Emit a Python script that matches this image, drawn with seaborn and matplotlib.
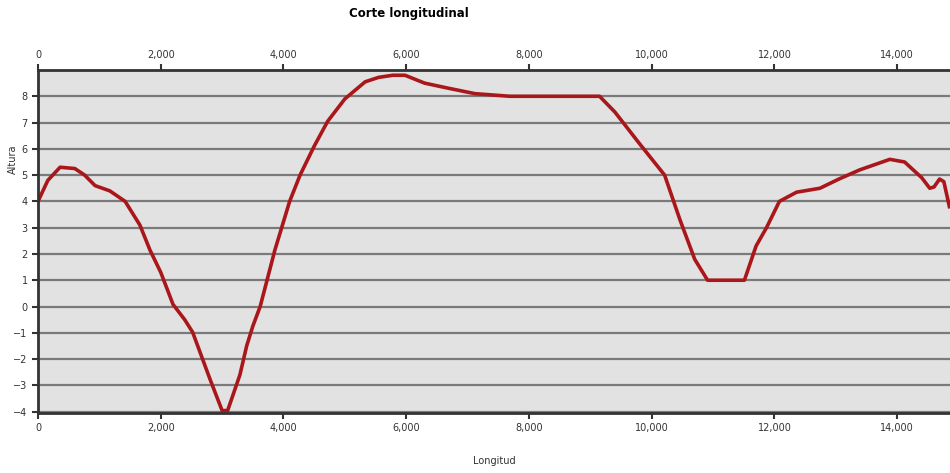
import numpy as np
import pandas as pd
import seaborn as sns
import matplotlib.pyplot as plt
from matplotlib.ticker import FuncFormatter, MultipleLocator

# profile (distance, height)
longitud = [0, 160, 360, 600, 760, 930, 1170, 1420, 1660, 1824, 2000, 2200, 2390,
            2520, 2800, 3000, 3090, 3290, 3400, 3500, 3620, 3860, 4100, 4270, 4500, 4720,
            5000, 5330, 5550, 5780, 5980, 6140, 6300, 6700, 7120, 7690, 9150, 9400,
            9800, 10210, 10460, 10700, 10910, 11510, 11700, 11870, 12080, 12360,
            12740, 13050, 13390, 13880, 14120, 14400, 14530, 14600, 14690, 14760, 14850]
altura = [4.0, 4.8, 5.3, 5.25, 5.0, 4.6, 4.4, 4.0, 3.1, 2.15, 1.3, 0.08, -0.5,
          -0.98, -2.75, -3.96, -3.96, -2.6, -1.5, -0.75, 0.0, 2.15, 4.0, 5.0, 6.1, 7.05,
          7.9, 8.55, 8.72, 8.8, 8.8, 8.65, 8.5, 8.3, 8.1, 8.0, 8.0, 7.4,
          6.2, 5.0, 3.3, 1.8, 1.0, 1.0, 2.3, 3.0, 4.0, 4.35,
          4.5, 4.85, 5.2, 5.6, 5.5, 4.9, 4.5, 4.55, 4.85, 4.75, 3.8]

df = pd.DataFrame({'Longitud': longitud, 'Altura': altura})

fig = plt.figure(figsize=(9.5, 4.73), dpi=100)
ax = fig.add_axes([0.04, 0.127, 0.96, 0.725])
ax.set_facecolor('#e2e2e2')

sns.lineplot(data=df, x='Longitud', y='Altura', ax=ax, color='#aa171b', lw=2.6, sort=False)

ax.set_xlim(0, 14860)
ax.set_ylim(-4.05, 9)
ax.xaxis.set_major_locator(MultipleLocator(2000))
ax.xaxis.set_major_formatter(FuncFormatter(lambda v, p: f'{int(v):,}'))
ax.set_yticks(range(-4, 9))

ax.yaxis.grid(True, color='#7a7a7a', lw=1.6)
ax.set_axisbelow(True)

ax.tick_params(axis='x', top=True, labeltop=True, labelsize=7, colors='#333333',
               length=4, width=1.5)
ax.tick_params(axis='y', labelsize=7, colors='#333333', length=4, width=1.5)
for s in ['top', 'left', 'bottom']:
    ax.spines[s].set_color('#333333')
    ax.spines[s].set_linewidth(2)
ax.spines['right'].set_visible(False)

ax.set_xlabel('Longitud', fontsize=7, color='#333333', labelpad=16)
ax.set_ylabel('Altura', fontsize=7, color='#333333', labelpad=4)
ax.yaxis.set_label_coords(-0.022, 0.74)
fig.suptitle('Corte longitudinal', x=0.43, y=0.985, fontsize=8.5, fontweight='bold')

fig.savefig('out.png', dpi=100)
